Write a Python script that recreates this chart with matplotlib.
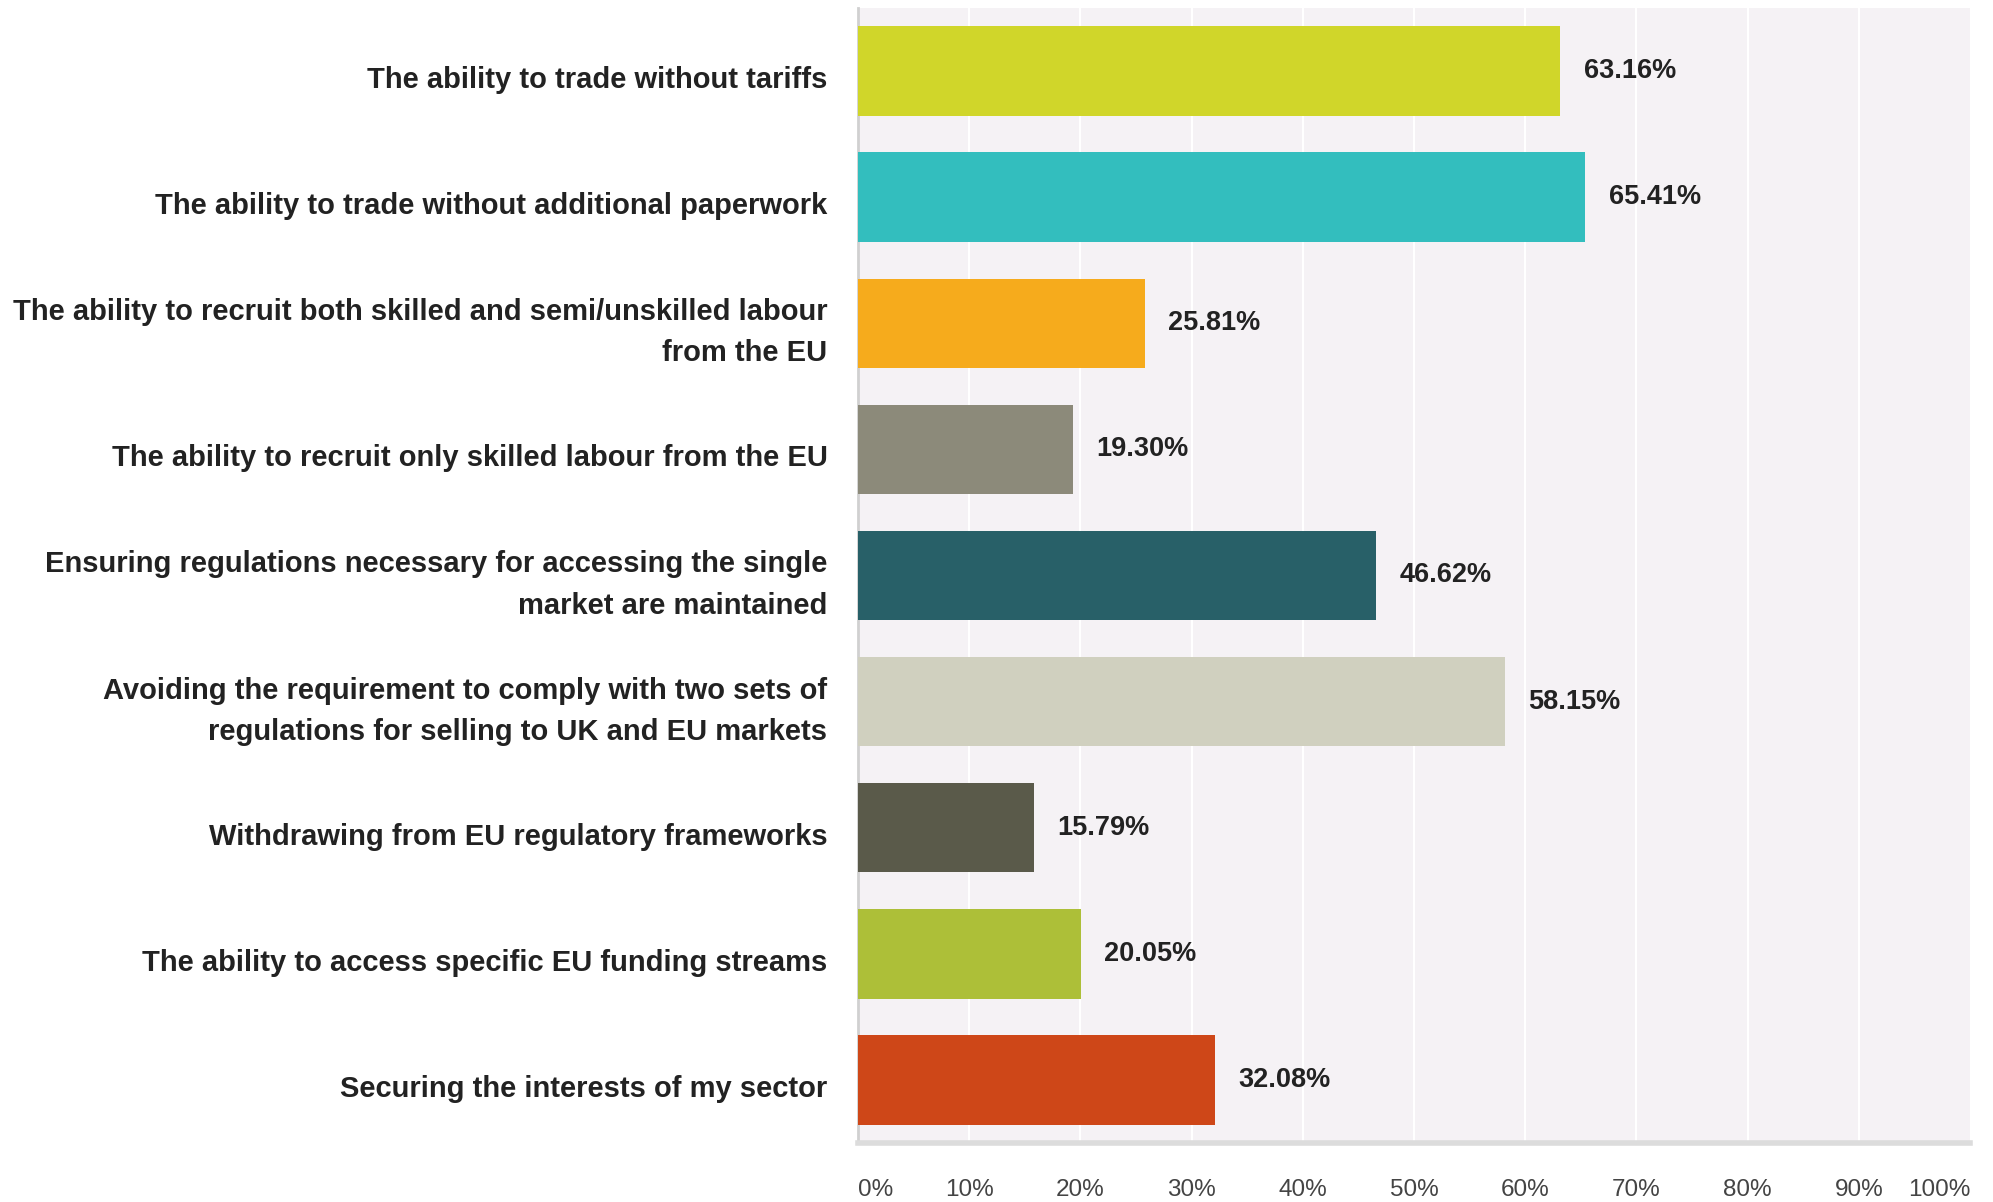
import matplotlib
matplotlib.use("Agg")
import matplotlib.pyplot as plt
from matplotlib.transforms import ScaledTranslation

categories = [
    "The ability to trade without tariffs",
    "The ability to trade without additional paperwork",
    "The ability to recruit both skilled and semi/unskilled labour\nfrom the EU",
    "The ability to recruit only skilled labour from the EU",
    "Ensuring regulations necessary for accessing the single\nmarket are maintained",
    "Avoiding the requirement to comply with two sets of\nregulations for selling to UK and EU markets",
    "Withdrawing from EU regulatory frameworks",
    "The ability to access specific EU funding streams",
    "Securing the interests of my sector",
]
values = [63.16, 65.41, 25.81, 19.30, 46.62, 58.15, 15.79, 20.05, 32.08]
colors = ["#D0D62A", "#33BEBE", "#F6AB1C", "#8C8A7A", "#286068",
          "#D0D0BF", "#5A5A4A", "#ADBF38", "#CE4718"]
xticks = [0, 10, 20, 30, 40, 50, 60, 70, 80, 90, 100]
xtick_labels = [f"{t}%" for t in xticks]

plt.rcParams["font.family"] = ["Liberation Sans", "DejaVu Sans"]

fig = plt.figure(figsize=(19.93, 12.02), dpi=100)
ax = fig.add_axes([858/1993, 1 - 1143/1202, (1970-858)/1993, (1143-8)/1202])
ax.set_facecolor("#F5F2F5")

n = len(categories)
ypos = list(range(n))
ax.barh(ypos, values, height=0.71, color=colors, zorder=3)
ax.set_ylim(n - 0.5, -0.5)
ax.set_xlim(0, 100)

for t in xticks[1:-1]:
    ax.axvline(t, color="white", lw=1.5, zorder=1)

for y, v in zip(ypos, values):
    ax.text(v + 2.1, y, f"{v:.2f}%", va="center", ha="left",
            fontsize=19.5, fontweight="bold", color="#222222", zorder=4)

ax.set_yticks(ypos)
ax.set_yticklabels(categories, fontsize=21, fontweight="bold", color="#222222",
                   linespacing=1.6)
ax.set_xticks(xticks)
ax.set_xticklabels(xtick_labels, fontsize=17.5, color="#444444")
ax.tick_params(axis="both", length=0)
ax.tick_params(axis="y", pad=22)
ax.tick_params(axis="x", pad=26)
xt = ax.get_xticklabels()
xt[0].set_ha("left")
xt[-1].set_ha("right")

shift = ScaledTranslation(0, -6/100, fig.dpi_scale_trans)
for lbl, cat in zip(ax.get_yticklabels(), categories):
    if "\n" not in cat:
        lbl.set_transform(lbl.get_transform() + shift)

for s in ["top", "right"]:
    ax.spines[s].set_visible(False)
ax.spines["left"].set_color("#D0D0D0")
ax.spines["left"].set_linewidth(2)
ax.spines["bottom"].set_color("#DCDCDC")
ax.spines["bottom"].set_linewidth(4)

fig.savefig("out.png", dpi=100, facecolor="white")
